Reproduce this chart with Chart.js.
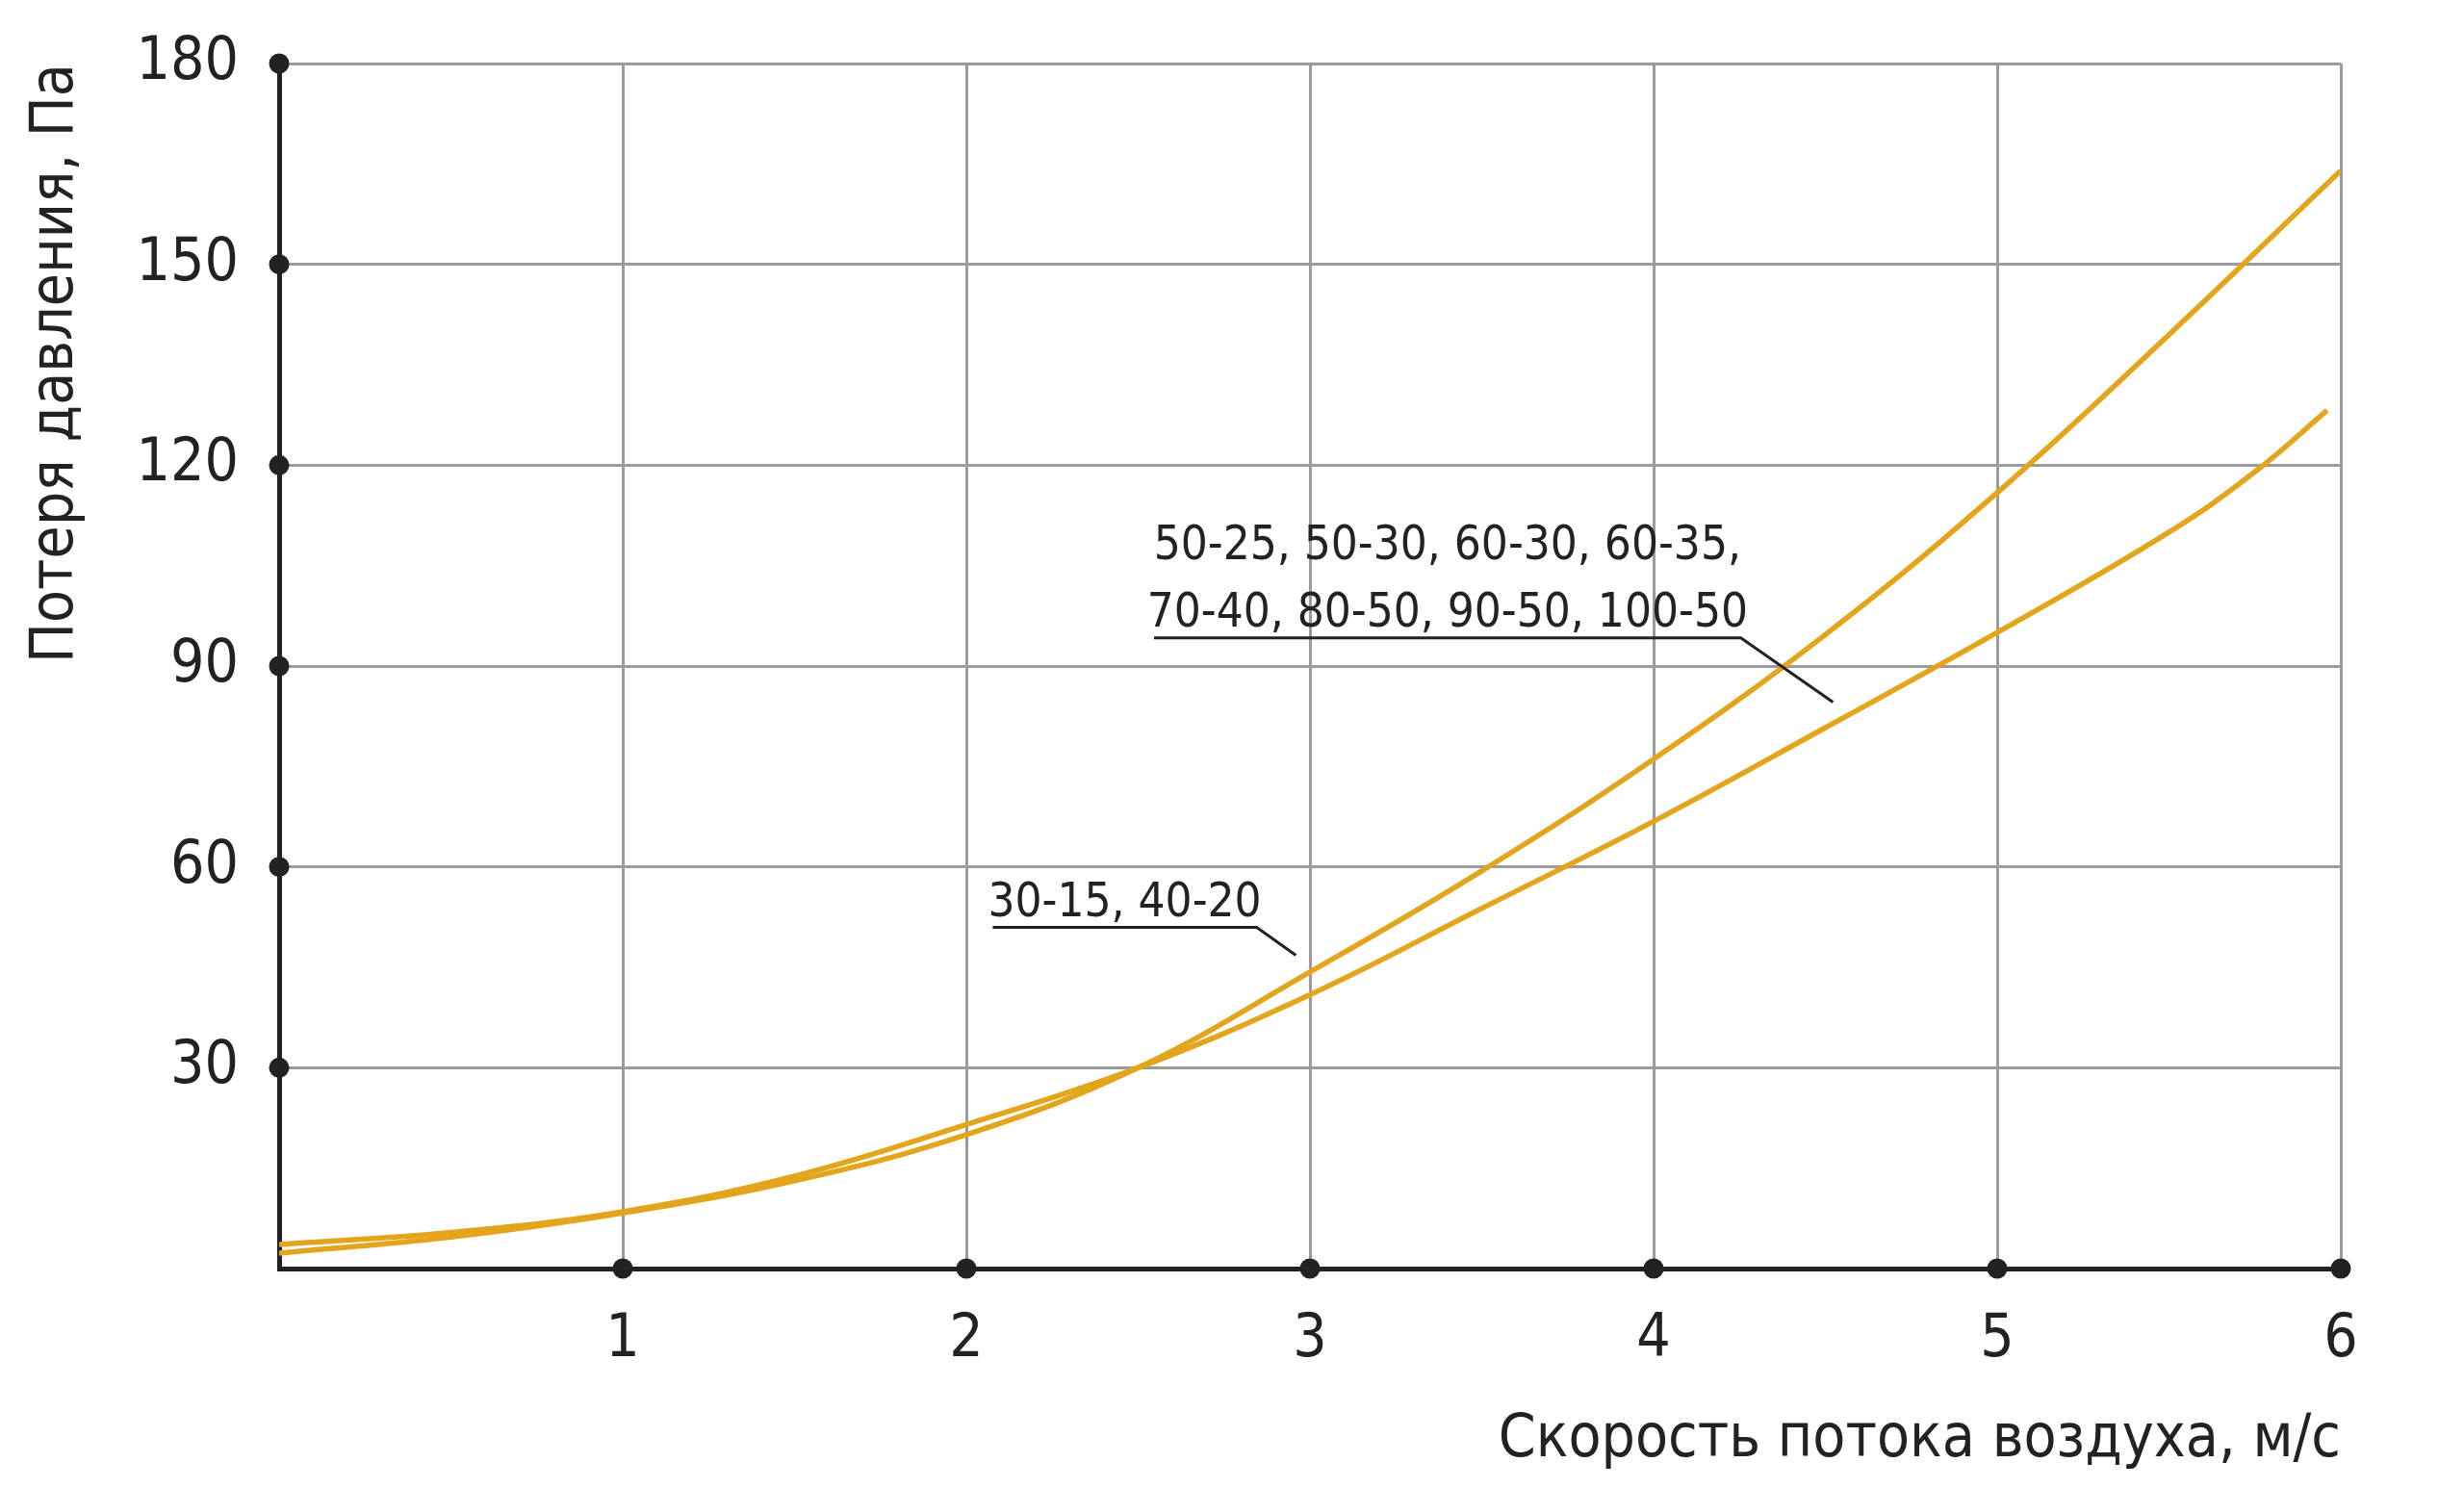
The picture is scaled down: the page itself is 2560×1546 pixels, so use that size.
<!DOCTYPE html>
<html>
<head>
<meta charset="utf-8">
<title>Потеря давления</title>
<script src="https://cdn.jsdelivr.net/npm/chart.js@4.4.1/dist/chart.umd.min.js"></script>
<style>
  html, body { margin: 0; padding: 0; background: #fff; }
  #chart { display: block; }
</style>
</head>
<body>
<canvas id="chart" width="2560" height="1546"></canvas>
<script>
// Pressure loss vs air speed

// data
const speedsA = [0, 0.5, 1, 1.5, 2, 2.5, 3, 3.5, 4, 4.5, 5, 5.5, 6];
const lossA = [2.3, 4.7, 8.3, 13.1, 20.0, 30.0, 44.3, 59.4, 76.1, 94.7, 115.9, 139.5, 164.0];

const speedsB = [0, 0.5, 1, 1.5, 2, 2.5, 3, 3.5, 4, 4.5, 5, 5.5, 5.75, 5.96];
const lossB = [3.6, 5.4, 8.5, 13.8, 21.5, 30.0, 40.9, 53.8, 66.8, 80.8, 95.0, 110.0, 119.0, 128.2];

const labelA = ['50-25, 50-30, 60-30, 60-35,', '70-40, 80-50, 90-50, 100-50'];
const labelB = ['30-15, 40-20'];

const yTicks = [0, 30, 60, 90, 120, 150, 180];
const xTicks = [0, 1, 2, 3, 4, 5, 6];

const xTitle = 'Скорость потока воздуха, м/с';
const yTitle = 'Потеря давления, Па';

const FONT = "'DejaVu Sans Condensed', 'Liberation Sans Narrow', sans-serif";
const CURVE = '#e3a51c';
const INK = '#222222';
const GRID = '#9b9b9b';

const toPoints = (xs, ys) => xs.map((x, i) => ({ x, y: ys[i] }));

// black dots on the axis ticks
const axisDots = {
  id: 'axisDots',
  afterDraw(chart) {
    const { ctx, scales: { x, y } } = chart;
    ctx.save();
    ctx.fillStyle = INK;
    yTicks.filter(v => v > 0).forEach(v => {
      ctx.beginPath();
      ctx.arc(x.left, y.getPixelForValue(v), 10.5, 0, Math.PI * 2);
      ctx.fill();
    });
    xTicks.filter(v => v > 0).forEach(v => {
      ctx.beginPath();
      ctx.arc(x.getPixelForValue(v), y.bottom, 10.5, 0, Math.PI * 2);
      ctx.fill();
    });
    ctx.restore();
  }
};

// underlined callout labels with leader lines (anchors in data units)
const callouts = [
  { lines: labelA, from: 2.546, to: 4.254, at: 94.2, tip: [4.522, 84.6] },
  { lines: labelB, from: 2.077, to: 2.845, at: 50.95, tip: [2.959, 46.8] }
];

const calloutPlugin = {
  id: 'callouts',
  afterDatasetsDraw(chart) {
    const { ctx, scales: { x, y } } = chart;
    ctx.save();
    ctx.strokeStyle = INK;
    ctx.fillStyle = INK;
    ctx.lineWidth = 3;
    ctx.font = '49px ' + FONT;
    ctx.textAlign = 'center';
    ctx.textBaseline = 'alphabetic';
    callouts.forEach(c => {
      const x0 = x.getPixelForValue(c.from);
      const x1 = x.getPixelForValue(c.to);
      const yl = y.getPixelForValue(c.at);
      ctx.beginPath();
      ctx.moveTo(x0, yl);
      ctx.lineTo(x1, yl);
      ctx.lineTo(x.getPixelForValue(c.tip[0]), y.getPixelForValue(c.tip[1]));
      ctx.stroke();
      const cx = (x0 + x1) / 2;
      c.lines.forEach((t, i) => {
        const off = (c.lines.length - 1 - i) * 70 + 12;
        ctx.fillText(t, cx, yl - off);
      });
    });
    ctx.restore();
  }
};

new Chart(document.getElementById('chart'), {
  type: 'line',
  data: {
    datasets: [
      { data: toPoints(speedsA, lossA), borderColor: CURVE, borderWidth: 5.5, pointRadius: 0, tension: 0.4, fill: false },
      { data: toPoints(speedsB, lossB), borderColor: CURVE, borderWidth: 5.5, pointRadius: 0, tension: 0.4, fill: false }
    ]
  },
  options: {
    responsive: false,
    animation: false,
    devicePixelRatio: 1,
    layout: { padding: { top: 66, right: 128, bottom: 0, left: 0 } },
    plugins: { legend: { display: false }, tooltip: { enabled: false } },
    scales: {
      x: {
        type: 'linear', min: 0, max: 6,
        afterFit: s => { s.height = 228; s.paddingLeft = 0; s.paddingRight = 0; },
        afterBuildTicks: s => { s.ticks = xTicks.map(v => ({ value: v })); },
        grid: { color: GRID, lineWidth: 3, drawTicks: false },
        border: { color: INK, width: 5 },
        ticks: {
          color: INK, padding: 38, font: { family: FONT, size: 62 },
          callback: v => (v === 0 ? '' : String(v))
        },
        title: {
          display: true, text: xTitle, align: 'end', color: INK,
          font: { family: FONT, size: 62 }, padding: { top: 0, bottom: 12 }
        }
      },
      y: {
        min: 0, max: 180,
        afterFit: s => { s.width = 290; s.paddingTop = 0; s.paddingBottom = 0; },
        afterBuildTicks: s => { s.ticks = yTicks.map(v => ({ value: v })); },
        grid: { color: GRID, lineWidth: 3, drawTicks: false },
        border: { color: INK, width: 5 },
        ticks: {
          color: INK, padding: 42, font: { family: FONT, size: 62 },
          callback: v => (v === 0 ? '' : String(v))
        },
        title: {
          display: true, text: yTitle, align: 'end', color: INK,
          font: { family: FONT, size: 62 }, padding: { top: 22, bottom: 0 }
        }
      }
    }
  },
  plugins: [calloutPlugin, axisDots]
});
</script>
</body>
</html>
